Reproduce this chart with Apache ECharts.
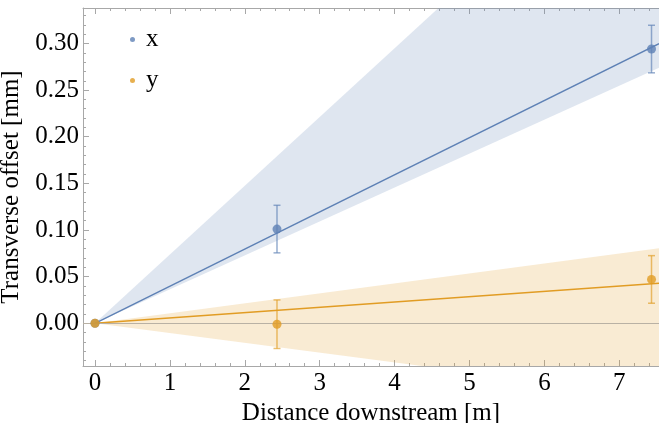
<!DOCTYPE html>
<html>
<head>
<meta charset="utf-8">
<script src="https://cdn.jsdelivr.net/npm/echarts@6/dist/echarts.min.js"></script>
<style>
html,body{margin:0;padding:0;background:#fff;}
#chart{width:659px;height:423px;}
</style>
</head>
<body>
<div id="chart"></div>
<script>
// ---- data ----
const distances = [0, 2.43, 7.43];
const xOffsets = [0, 0.101, 0.294];
const yOffsets = [0, -0.001, 0.047];
const xErrors = [0, 0.0255, 0.0255];
const yErrors = [0, 0.026, 0.0255];
// fitted lines: [distance, offset] end points
const xFit = [[0, 0], [7.53, 0.2997]];
const yFit = [[0, 0], [7.53, 0.0429]];
// confidence bands: [distance, lower, upper]
const xBand = [[0, 0, 0], [7.53, 0.274, 0.555]];
const yBand = [[0, 0, 0], [7.53, -0.079, 0.0805]];
// tick labels
const xTickLabels = [0, 1, 2, 3, 4, 5, 6, 7];
const yTickLabels = [0.00, 0.05, 0.10, 0.15, 0.20, 0.25, 0.30];

const X_MIN = -0.16, X_MAX = 7.53, Y_MIN = -0.0458, Y_MAX = 0.338;
const BLUE = '#5e81b5', ORANGE = '#e19c24';
const FRAME = '#a8a8a8';
const FONT = 'Liberation Serif';
const FS = 25;

const xMinor = [];
for (let i = 1; i <= 37; i++) { const v = +(i * 0.2).toFixed(2); if (v % 1 !== 0) xMinor.push(v); }
const yMinor = [];
for (let i = -4; i <= 33; i++) { if (i % 5 !== 0) yMinor.push(+(i * 0.01).toFixed(2)); }

function pts(xs, ys) { return xs.map((d, i) => [d, ys[i]]); }
function errPts(xs, ys, es) { return xs.map((d, i) => [d, ys[i], es[i]]); }

function bandRender(data, color) {
  return function (params, api) {
    if (params.dataIndex !== 0) return null;
    const upper = data.map(d => api.coord([d[0], d[2]]));
    const lower = data.map(d => api.coord([d[0], d[1]])).reverse();
    const cs = params.coordSys;
    return {
      type: 'polygon',
      shape: { points: upper.concat(lower) },
      style: { fill: color, opacity: 0.2 },
      clipPath: { type: 'rect', shape: { x: cs.x, y: cs.y, width: cs.width, height: cs.height } }
    };
  };
}
function errRender(color) {
  return function (params, api) {
    const e = api.value(2);
    if (!e) return null;
    const top = api.coord([api.value(0), api.value(1) + e]);
    const bot = api.coord([api.value(0), api.value(1) - e]);
    const w = 3.5;
    const st = { stroke: color, lineWidth: 1.5, opacity: 0.65 };
    return {
      type: 'group',
      children: [
        { type: 'line', shape: { x1: top[0], y1: top[1], x2: bot[0], y2: bot[1] }, style: st },
        { type: 'line', shape: { x1: top[0] - w, y1: top[1], x2: top[0] + w, y2: top[1] }, style: st },
        { type: 'line', shape: { x1: bot[0] - w, y1: bot[1], x2: bot[0] + w, y2: bot[1] }, style: st }
      ]
    };
  };
}

function xAx(pos, values, len, showLabel, showLine, name) {
  const a = {
    type: 'value', position: pos, min: X_MIN, max: X_MAX,
    axisLine: { show: showLine, onZero: false, lineStyle: { color: FRAME, width: 1 } },
    axisTick: { show: true, inside: true, length: len, customValues: values, lineStyle: { color: FRAME } },
    axisLabel: { show: showLabel, customValues: values, margin: 5, color: '#000', fontFamily: FONT, fontSize: FS },
    splitLine: { show: false }
  };
  if (name) {
    a.name = name; a.nameLocation = 'middle'; a.nameGap = 30;
    a.nameTextStyle = { color: '#000', fontFamily: FONT, fontSize: FS };
  }
  return a;
}
function yAx(values, len, showLabel, showLine, name) {
  const a = {
    type: 'value', position: 'left', min: Y_MIN, max: Y_MAX,
    axisLine: { show: showLine, onZero: false, lineStyle: { color: FRAME, width: 1 } },
    axisTick: { show: true, inside: true, length: len, customValues: values, lineStyle: { color: FRAME } },
    axisLabel: { show: showLabel, customValues: values, margin: 4, color: '#000', fontFamily: FONT, fontSize: FS,
      formatter: v => v.toFixed(2) },
    splitLine: { show: false }
  };
  if (name) {
    a.name = name; a.nameLocation = 'middle'; a.nameGap = 51;
    a.nameTextStyle = { color: '#000', fontFamily: FONT, fontSize: FS };
  }
  return a;
}

const chart = echarts.init(document.getElementById('chart'), null, { renderer: 'canvas' });
chart.setOption({
  animation: false,
  backgroundColor: '#fff',
  grid: { left: 83, top: 8, right: 0, bottom: 57, containLabel: false, outerBoundsMode: 'none' },
  legend: {
    orient: 'vertical', left: 125, top: 22, itemWidth: 5, itemHeight: 5, itemGap: 16,
    icon: 'circle', data: ['x', 'y'],
    textStyle: { color: '#000', fontFamily: FONT, fontSize: FS, padding: [0, 0, 0, 6] }
  },
  xAxis: [
    xAx('bottom', xTickLabels, 6, true, true, 'Distance downstream [m]'),
    xAx('bottom', xMinor, 3, false, false),
    xAx('top', xTickLabels, 6, false, true),
    xAx('top', xMinor, 3, false, false)
  ],
  yAxis: [
    yAx(yTickLabels, 6, true, true, 'Transverse offset [mm]'),
    yAx(yMinor, 3, false, false)
  ],
  series: [
    { name: 'xband', type: 'custom', data: xBand, renderItem: bandRender(xBand, BLUE), z: 1, silent: true },
    { name: 'yband', type: 'custom', data: yBand, renderItem: bandRender(yBand, ORANGE), z: 1, silent: true },
    { name: 'zero', type: 'line', data: [], z: 2,
      markLine: { silent: true, symbol: 'none', label: { show: false },
        lineStyle: { color: '#b9b1a4', width: 1, type: 'solid' }, data: [{ yAxis: 0 }] } },
    { name: 'xfit', type: 'line', data: xFit, showSymbol: false, lineStyle: { color: BLUE, width: 1.4 }, z: 3 },
    { name: 'yfit', type: 'line', data: yFit, showSymbol: false, lineStyle: { color: ORANGE, width: 1.4 }, z: 3 },
    { name: 'xerr', type: 'custom', data: errPts(distances, xOffsets, xErrors), renderItem: errRender(BLUE), z: 4 },
    { name: 'yerr', type: 'custom', data: errPts(distances, yOffsets, yErrors), renderItem: errRender(ORANGE), z: 4 },
    { name: 'x', type: 'scatter', data: pts(distances, xOffsets), symbolSize: 9, itemStyle: { color: BLUE }, z: 5 },
    { name: 'y', type: 'scatter', data: pts(distances, yOffsets), symbolSize: 9, itemStyle: { color: ORANGE }, z: 6 }
  ]
});
</script>
</body>
</html>
